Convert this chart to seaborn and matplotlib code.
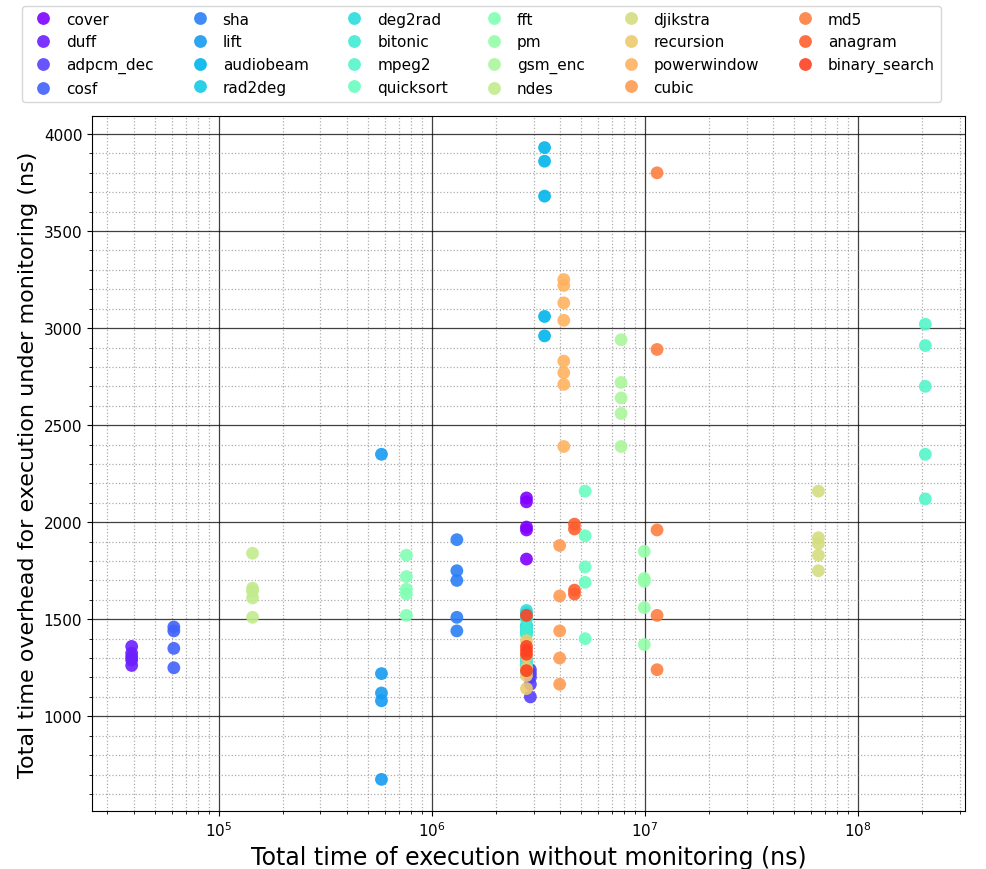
import numpy as np
import pandas as pd
import matplotlib
matplotlib.use("Agg")
import matplotlib.pyplot as plt
import seaborn as sns
from matplotlib.ticker import MultipleLocator, LogLocator, NullFormatter

# Benchmark names, in legend order
benchmarks = ["cover", "duff", "adpcm_dec", "cosf", "sha", "lift", "audiobeam",
              "rad2deg", "deg2rad", "bitonic", "mpeg2", "quicksort", "fft", "pm",
              "gsm_enc", "ndes", "djikstra", "recursion", "powerwindow", "cubic",
              "md5", "anagram", "binary_search"]

# Execution time without monitoring (ns), one per benchmark
base_time_ns = [2.78e6, 3.9e4, 2.9e6, 6.15e4, 1.31e6, 5.8e5, 3.38e6,
                2.78e6, 2.78e6, 2.78e6, 2.07e8, 5.24e6, 7.59e5, 9.93e6,
                7.73e6, 1.44e5, 6.52e7, 2.78e6, 4.16e6, 3.98e6,
                1.14e7, 4.67e6, 2.78e6]

# Overhead under monitoring (ns), one list per benchmark
cover = [2125, 2105, 1975, 1960, 1810]
duff = [1360, 1325, 1305, 1290, 1262]
adpcm_dec = [1240, 1220, 1200, 1165, 1100]
cosf = [1460, 1440, 1350, 1250]
sha = [1910, 1750, 1700, 1510, 1440]
lift = [2350, 1220, 1120, 1080, 675]
audiobeam = [3930, 3860, 3680, 3060, 2960]
rad2deg = [1530, 1460, 1430, 1300, 1260]
deg2rad = [1545, 1510, 1470, 1440, 1280]
bitonic = [1500, 1450, 1420, 1270, 1230]
mpeg2 = [3020, 2910, 2700, 2350, 2120]
quicksort = [2160, 1930, 1770, 1690, 1400]
fft = [1830, 1720, 1655, 1630, 1520]
pm = [1850, 1710, 1695, 1560, 1370]
gsm_enc = [2940, 2720, 2640, 2560, 2390]
ndes = [1840, 1660, 1645, 1610, 1510]
djikstra = [2160, 1920, 1890, 1830, 1750]
recursion = [1390, 1310, 1250, 1210, 1143]
powerwindow = [3250, 3220, 3130, 3040, 2830, 2770, 2710, 2390]
cubic = [1880, 1620, 1440, 1300, 1165]
md5 = [3800, 2890, 1960, 1520, 1240]
anagram = [1990, 1965, 1650, 1630]
binary_search = [1520, 1360, 1340, 1320, 1235]

overheads = [cover, duff, adpcm_dec, cosf, sha, lift, audiobeam, rad2deg,
             deg2rad, bitonic, mpeg2, quicksort, fft, pm, gsm_enc, ndes,
             djikstra, recursion, powerwindow, cubic, md5, anagram, binary_search]

rows = []
for name, base, vals in zip(benchmarks, base_time_ns, overheads):
    for v in vals:
        rows.append({"benchmark": name, "base": base, "overhead": v})
df = pd.DataFrame(rows)

colors = plt.cm.rainbow(np.linspace(0, 1, 25))[:len(benchmarks)]
palette = dict(zip(benchmarks, [tuple(c) for c in colors]))

fig = plt.figure(figsize=(9.86, 8.7), dpi=100)
ax = fig.add_axes([0.0933, 0.0667, 0.8854, 0.7988])

sns.scatterplot(data=df, x="base", y="overhead", hue="benchmark",
                hue_order=benchmarks, palette=palette, s=85, linewidth=0,
                alpha=0.9, legend="full", ax=ax)
ax.set_xscale("log")

ax.yaxis.set_major_locator(MultipleLocator(500))
ax.yaxis.set_minor_locator(MultipleLocator(100))
ax.xaxis.set_major_locator(LogLocator(base=10))
ax.xaxis.set_minor_locator(LogLocator(base=10, subs=np.arange(2, 10)))
ax.xaxis.set_minor_formatter(NullFormatter())

ax.set_axisbelow(True)
ax.grid(which="major", color="black", linestyle="-", linewidth=0.9, alpha=0.75)
ax.grid(which="minor", color="gray", linestyle=":", linewidth=0.9, alpha=0.65)
ax.tick_params(which="major", direction="out", length=3.5, labelsize=11)
ax.tick_params(which="minor", direction="out", length=2)
for sp in ax.spines.values():
    sp.set_color("black")

ax.set_xlabel("Total time of execution without monitoring (ns)", fontsize=17)
ax.set_ylabel("Total time overhead for execution under monitoring (ns)", fontsize=16)

handles, labels = ax.get_legend_handles_labels()
ax.get_legend().remove()
fig.legend(handles, labels, ncol=6, loc="lower left",
           bbox_to_anchor=(22 / 986, 1 - 103 / 870), fontsize=11,
           labelspacing=0.5, columnspacing=2.0, handletextpad=0.5,
           frameon=True, edgecolor="0.8", borderaxespad=0)

fig.savefig("out.png", dpi=100)
